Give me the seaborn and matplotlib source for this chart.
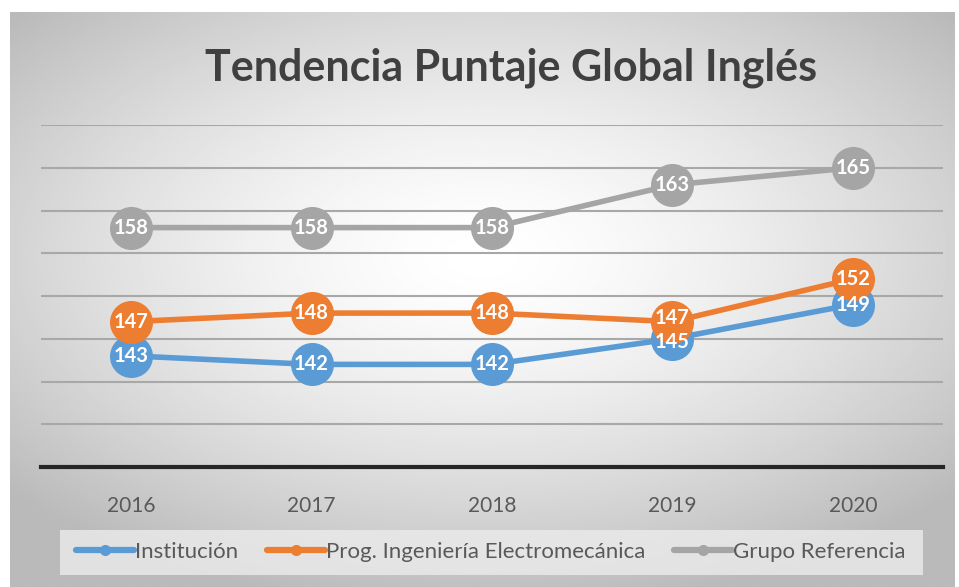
import numpy as np
import pandas as pd
import matplotlib.pyplot as plt
import seaborn as sns
from matplotlib.lines import Line2D
from matplotlib.patches import Rectangle

# datos
anios = ['2016', '2017', '2018', '2019', '2020']
institucion = [143, 142, 142, 145, 149]
programa = [147, 148, 148, 147, 152]
referencia = [158, 158, 158, 163, 165]
series = ['Institución', 'Prog. Ingeniería Electromecánica', 'Grupo Referencia']
colores = ['#5B9BD5', '#ED7D31', '#A5A5A5']

df = pd.DataFrame({
    'Año': anios * 3,
    'Puntaje': institucion + programa + referencia,
    'Serie': [series[0]] * 5 + [series[1]] * 5 + [series[2]] * 5,
})
df['x'] = df['Año'].map({a: i for i, a in enumerate(anios)})

sns.set_style('white')
plt.rcParams['font.family'] = ['Lato', 'DejaVu Sans']

fig = plt.figure(figsize=(9.59, 5.87), dpi=100)

# fondo con degradado radial
bg = fig.add_axes([10 / 959, 0, 945 / 959, 575 / 587])
yy, xx = np.mgrid[-1:1:300j, -1:1:500j]
r = np.sqrt((xx * 1.0) ** 2 + ((yy + 0.15) * 1.1) ** 2)
r = np.clip(r / 1.35, 0, 1)
bg.imshow(1 - 0.27 * r ** 1.5, cmap='gray', vmin=0, vmax=1, aspect='auto', extent=[0, 1, 0, 1])
bg.set_axis_off()

ax = fig.add_axes([41 / 959, 1 - 467 / 587, 902 / 959, 342 / 587])
ax.patch.set_alpha(0)

sns.lineplot(data=df, x='x', y='Puntaje', hue='Serie', palette=colores,
             marker='o', markersize=31, linewidth=4, markeredgewidth=0,
             legend=False, ax=ax, zorder=3)

# etiquetas de datos (se separan un poco si quedan muy juntas)
for xi in range(len(anios)):
    inst, prog = institucion[xi], programa[xi]
    cerca = abs(prog - inst) <= 2
    for vals, dy in [(institucion, -2.5 if cerca else 0), (programa, 2.5 if cerca else 0),
                     (referencia, 0)]:
        ax.annotate(str(vals[xi]), (xi, vals[xi]), xytext=(0, dy), textcoords='offset points',
                    color='white', fontsize=14.5, fontweight='bold',
                    ha='center', va='center', zorder=5)

ax.set_xlim(-0.5, 4.5)
ax.set_ylim(130, 170)
ax.set_yticks(range(135, 171, 5))
ax.yaxis.grid(True, color='#a8a8a8', linewidth=1.5)
ax.set_axisbelow(True)
ax.set_xticks(range(5))
ax.set_xticklabels(anios, fontsize=15, color='#595959')
ax.tick_params(axis='x', length=0, pad=21)
ax.tick_params(axis='y', length=0, labelleft=False)
ax.set_xlabel('')
ax.set_ylabel('')
for s in ['top', 'right', 'left']:
    ax.spines[s].set_visible(False)
ax.spines['bottom'].set_color('#262626')
ax.spines['bottom'].set_linewidth(3)

fig.text(0.533, 0.884, 'Tendencia Puntaje Global Inglés', ha='center', va='center',
         fontsize=31, fontweight='bold', color='#404040')

# caja de la leyenda
fig.patches.append(Rectangle((60 / 959, 1 - 575 / 587), 863 / 959, 45 / 587,
                             transform=fig.transFigure, facecolor='#ececec',
                             alpha=0.8, edgecolor='none', zorder=1))

handles = [Line2D([0], [0], color=c, linewidth=4.5, marker='o', markersize=7) for c in colores]
leg = fig.legend(handles, series, loc='center', bbox_to_anchor=(491 / 959, 1 - 552 / 587), ncol=3,
                 frameon=False, fontsize=16, handlelength=2.6, handletextpad=0.05,
                 columnspacing=1.3, borderpad=0.2)
for t in leg.get_texts():
    t.set_color('#595959')

plt.savefig('out.png', dpi=100)
